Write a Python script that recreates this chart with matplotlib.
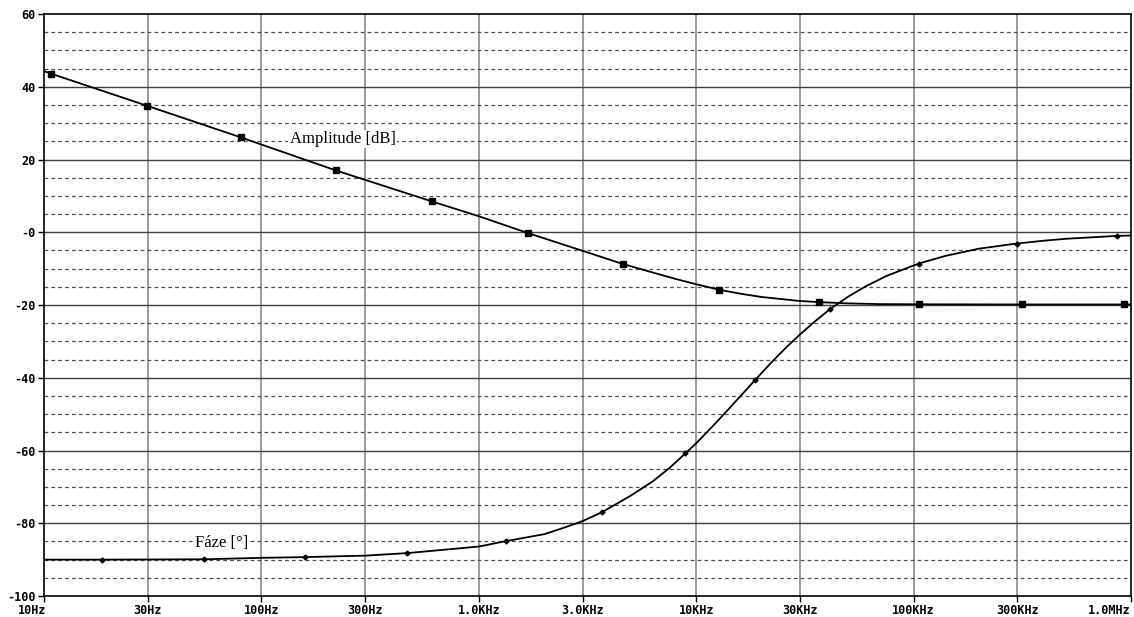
import numpy as np
import matplotlib
matplotlib.use("Agg")
from matplotlib import pyplot as plt
from matplotlib.ticker import FixedLocator, NullLocator
from matplotlib.transforms import ScaledTranslation

# Amplitude response [dB]
amp_f = [10, 10.77, 29.7, 80.3, 220, 607, 1000, 1679, 3000, 4590, 6000, 8000, 10000,
         12770, 16000, 20000, 25000, 30000, 36600, 50000, 70000, 105600, 315000,
         929000, 1000000]
amp_db = [44.3, 43.6, 34.8, 26.1, 17.0, 8.5, 4.4, -0.2, -5.1, -8.7, -10.7, -12.8, -14.3,
          -15.8, -16.9, -17.8, -18.4, -18.9, -19.2, -19.55, -19.75, -19.8, -19.85,
          -19.85, -19.85]
# square markers on the amplitude trace
amp_mark_f = [10.77, 29.7, 80.3, 220, 607, 1679, 4590, 12770, 36600, 105600, 315000, 929000]
amp_mark_db = [43.6, 34.8, 26.1, 17.0, 8.5, -0.2, -8.7, -15.8, -19.2, -19.8, -19.85, -19.85]

# Phase [deg]
ph_f = [10, 18.4, 54.4, 100, 159, 300, 469, 1000, 1334, 2000, 2500, 3000, 3676, 5000,
        6300, 7500, 8910, 10000, 12000, 14000, 16000, 18600, 22000, 26000, 30000,
        35000, 41100, 50000, 60000, 75000, 105600, 140000, 200000, 298000, 400000,
        500000, 700000, 860000, 1000000]
ph_deg = [-90.0, -90.0, -89.9, -89.5, -89.3, -88.9, -88.2, -86.4, -84.9, -83.0, -81.1,
          -79.4, -77.0, -72.4, -68.5, -64.9, -60.8, -58.0, -53.1, -48.8, -45.0, -40.7,
          -36.0, -31.6, -28.1, -24.6, -21.2, -17.7, -14.9, -12.0, -8.6, -6.5, -4.5,
          -3.1, -2.3, -1.8, -1.3, -1.0, -0.9]
ph_mark_f = [18.4, 54.4, 159, 469, 1334, 3676, 8910, 18600, 41100, 105600, 298000, 860000]
ph_mark_deg = [-90.0, -89.9, -89.3, -88.2, -84.9, -77.0, -60.8, -40.7, -21.2, -8.6, -3.1, -1.0]

x_ticks = [10, 30, 100, 300, 1e3, 3e3, 1e4, 3e4, 1e5, 3e5, 1e6]
x_labels = ["10Hz", "30Hz", "100Hz", "300Hz", "1.0KHz", "3.0KHz", "10KHz",
            "30KHz", "100KHz", "300KHz", "1.0MHz"]
y_ticks = [-100, -80, -60, -40, -20, 0, 20, 40, 60]
y_labels = ["-100", "-80", "-60", "-40", "-20", "-0", "20", "40", "60"]

fig = plt.figure(figsize=(11.34, 6.17), dpi=100)
ax = fig.add_axes([0.0388, 0.034, 0.9586, 0.9433])

ax.set_xscale("log")
ax.set_xlim(10, 1e6)
ax.set_ylim(-100, 60)

# grid: solid verticals, solid majors and dashed minors horizontally
for xv in x_ticks[1:-1]:
    ax.axvline(xv, color="#808080", lw=1.1, zorder=1)
for yv in y_ticks[1:-1]:
    ax.axhline(yv, color="#404040", lw=1.0, zorder=1)
for yv in np.arange(-95, 60, 5):
    if yv % 20 != 0:
        ax.axhline(yv, color="#505050", lw=0.9, ls=(0, (3, 2.5)), zorder=1)

ax.plot(amp_f, amp_db, color="black", lw=1.3, zorder=3)
ax.plot(amp_mark_f, amp_mark_db, ls="none", marker="s", ms=4, color="black", zorder=4)
ax.plot(ph_f, ph_deg, color="black", lw=1.3, zorder=3)
ax.plot(ph_mark_f, ph_mark_deg, ls="none", marker="D", ms=2.5, color="black", zorder=4)

ax.xaxis.set_major_locator(FixedLocator(x_ticks))
ax.xaxis.set_minor_locator(NullLocator())
ax.set_xticklabels(x_labels)
ax.set_yticks(y_ticks)
ax.set_yticklabels(y_labels)
ax.tick_params(axis="both", direction="out", length=4, width=1, color="black",
               labelsize=8.5, pad=2)
for lab in ax.get_xticklabels() + ax.get_yticklabels():
    lab.set_family("DejaVu Sans Mono")
    lab.set_weight("bold")

# end labels sit inside the figure
xl = ax.get_xticklabels()
xl[0].set_transform(xl[0].get_transform() + ScaledTranslation(-0.12, 0, fig.dpi_scale_trans))
xl[-1].set_horizontalalignment("right")

for sp in ax.spines.values():
    sp.set_color("black")
    sp.set_linewidth(1.2)

box = dict(facecolor="white", edgecolor="none", pad=1)
ax.text(135, 25.6, "Amplitude [dB]", family="Liberation Serif", fontsize=12,
        va="center", ha="left", bbox=box, zorder=5)
ax.text(49.5, -85.3, "Fáze [°]", family="Liberation Serif", fontsize=12,
        va="center", ha="left", bbox=box, zorder=5)

fig.savefig("out.png", dpi=100)
